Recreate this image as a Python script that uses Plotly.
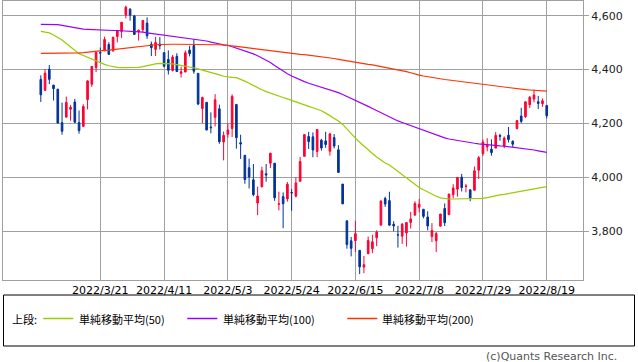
import plotly.graph_objects as go

# ---------------- data ----------------
dates = (
    ["2022-03-%02d" % d for d in [1, 2, 3, 4, 7, 8, 9, 10, 11, 14, 15, 16, 17, 18, 21, 22, 23, 24, 25, 28, 29, 30, 31]]
    + ["2022-04-%02d" % d for d in [1, 4, 5, 6, 7, 8, 11, 12, 13, 14, 18, 19, 20, 21, 22, 25, 26, 27, 28, 29]]
    + ["2022-05-%02d" % d for d in [2, 3, 4, 5, 6, 9, 10, 11, 12, 13, 16, 17, 18, 19, 20, 23, 24, 25, 26, 27, 31]]
    + ["2022-06-%02d" % d for d in [1, 2, 3, 6, 7, 8, 9, 10, 13, 14, 15, 16, 17, 21, 22, 23, 24, 27, 28, 29, 30]]
    + ["2022-07-%02d" % d for d in [1, 5, 6, 7, 8, 11, 12, 13, 14, 15, 18, 19, 20, 21, 22, 25, 26, 27, 28, 29]]
    + ["2022-08-%02d" % d for d in [1, 2, 3, 4, 5, 8, 9, 10, 11, 12, 15, 16, 17, 18, 19]]
)

opens = [
    4363.1, 4322.6, 4401.3, 4342.1, 4327.0, 4202.7, 4223.1, 4252.6, 4279.5, 4202.8, 4188.8, 4288.1, 4345.1, 4407.3, 4462.4, 4469.1, 4493.1, 4470.0, 4522.7, 4541.1, 4602.9, 4624.2, 4599.0,
    4540.3, 4548.0, 4572.5, 4494.2, 4474.7, 4494.2, 4462.6, 4437.6, 4396.8, 4449.1, 4385.6, 4390.6, 4472.3, 4489.2, 4385.8, 4255.3, 4278.1, 4186.5, 4222.6, 4253.8,
    4130.6, 4159.8, 4181.2, 4270.4, 4128.2, 4081.3, 4035.2, 3990.1, 3904.0, 3963.9, 4013.0, 4052.0, 4052.0, 3899.0, 3927.8, 3919.4, 3942.9, 3929.6, 3984.6, 4077.4, 4151.1,
    4149.8, 4095.4, 4137.6, 4134.7, 4096.5, 4147.1, 4101.7, 3974.4, 3838.1, 3763.5, 3764.1, 3728.2, 3665.9, 3715.3, 3733.9, 3774.7, 3821.8, 3920.8, 3913.0, 3825.1, 3786.0,
    3781.0, 3792.6, 3832.0, 3858.9, 3888.3, 3880.9, 3852.0, 3779.7, 3764.0, 3818.0, 3883.8, 3860.7, 3935.3, 3955.5, 4000.0, 3965.7, 3953.2, 3951.4, 4026.1, 4087.3,
    4112.4, 4104.2, 4108.0, 4154.9, 4115.9, 4155.9, 4133.1, 4181.0, 4227.4, 4225.0, 4269.4, 4290.5, 4280.4, 4273.1, 4266.3,
]
highs = [
    4378.5, 4401.5, 4416.8, 4342.1, 4327.0, 4276.9, 4299.4, 4268.3, 4291.0, 4247.6, 4271.1, 4358.9, 4412.7, 4465.4, 4481.8, 4522.0, 4501.1, 4520.6, 4546.0, 4575.7, 4637.3, 4627.8, 4603.1,
    4548.7, 4583.5, 4593.5, 4503.9, 4521.2, 4520.4, 4464.4, 4471.0, 4453.9, 4460.5, 4410.3, 4471.0, 4488.3, 4512.9, 4385.8, 4299.0, 4278.1, 4240.7, 4308.5, 4269.7,
    4169.8, 4200.1, 4307.7, 4270.4, 4157.7, 4081.3, 4068.8, 4049.1, 3964.8, 4038.9, 4049.0, 4090.7, 4052.0, 3946.0, 3943.4, 3981.9, 3955.7, 3999.3, 4075.1, 4158.5, 4168.3,
    4166.5, 4177.5, 4142.7, 4168.8, 4164.9, 4160.1, 4119.1, 3974.4, 3838.1, 3778.2, 3837.6, 3728.2, 3707.7, 3779.7, 3786.0, 3802.6, 3913.7, 3927.7, 3945.9, 3836.5, 3819.0,
    3829.8, 3832.2, 3870.9, 3910.6, 3918.5, 3880.9, 3873.4, 3829.4, 3796.4, 3863.6, 3902.4, 3939.8, 3974.1, 3999.3, 4012.4, 3975.3, 3953.2, 4039.6, 4079.0, 4140.2,
    4145.0, 4140.5, 4167.7, 4161.3, 4151.6, 4186.6, 4137.3, 4211.0, 4257.9, 4280.5, 4301.8, 4325.3, 4302.2, 4292.5, 4266.3,
]
lows = [
    4279.5, 4322.6, 4345.6, 4285.0, 4199.9, 4157.9, 4223.1, 4209.8, 4200.5, 4161.7, 4187.9, 4252.0, 4335.7, 4390.6, 4424.3, 4469.1, 4455.8, 4465.2, 4501.1, 4517.7, 4589.7, 4581.3, 4530.4,
    4507.6, 4539.2, 4514.2, 4450.0, 4450.3, 4474.6, 4408.4, 4381.3, 4392.7, 4390.8, 4370.3, 4390.6, 4448.8, 4384.5, 4267.6, 4200.8, 4175.0, 4162.9, 4188.6, 4124.3,
    4062.5, 4147.1, 4148.9, 4106.0, 4067.9, 3975.5, 3958.2, 3928.8, 3858.9, 3963.9, 3983.4, 4033.9, 3911.9, 3876.6, 3810.3, 3909.0, 3875.1, 3925.0, 3984.6, 4077.4, 4104.9,
    4073.9, 4074.4, 4098.7, 4109.2, 4080.2, 4107.2, 4017.2, 3900.2, 3734.3, 3705.7, 3722.3, 3639.8, 3643.4, 3715.3, 3717.7, 3743.5, 3821.8, 3889.7, 3820.1, 3799.0, 3738.7,
    3752.1, 3742.1, 3809.4, 3858.9, 3869.3, 3847.2, 3802.4, 3759.1, 3721.6, 3817.2, 3818.6, 3860.7, 3922.0, 3927.6, 3947.0, 3943.5, 3910.7, 3951.4, 3993.0, 4079.2,
    4096.0, 4079.8, 4108.0, 4135.4, 4107.3, 4129.0, 4112.1, 4177.3, 4201.4, 4219.8, 4256.9, 4277.8, 4253.1, 4262.0, 4218.7,
]
closes = [
    4306.3, 4386.5, 4363.5, 4328.9, 4201.1, 4170.7, 4277.9, 4259.5, 4204.3, 4173.1, 4262.5, 4357.9, 4411.7, 4463.1, 4461.2, 4511.6, 4456.2, 4520.2, 4543.1, 4575.5, 4631.6, 4602.5, 4530.4,
    4545.9, 4582.6, 4525.1, 4481.2, 4500.2, 4488.3, 4412.5, 4397.5, 4446.6, 4392.6, 4391.7, 4462.2, 4459.5, 4393.7, 4271.8, 4296.1, 4175.2, 4184.0, 4287.5, 4131.9,
    4155.4, 4175.5, 4300.2, 4146.9, 4123.3, 3991.2, 4001.1, 3935.2, 3930.1, 4023.9, 4008.0, 4088.9, 3923.7, 3900.8, 3901.4, 3973.8, 3941.5, 3978.7, 4057.8, 4158.2, 4132.2,
    4101.2, 4176.8, 4108.5, 4121.4, 4160.7, 4115.8, 4017.8, 3900.9, 3749.6, 3735.5, 3790.0, 3666.8, 3674.8, 3764.8, 3759.9, 3795.7, 3911.7, 3900.1, 3821.6, 3818.8, 3785.4,
    3825.3, 3831.4, 3845.1, 3902.6, 3899.4, 3854.4, 3818.8, 3801.8, 3790.4, 3863.2, 3830.9, 3936.7, 3959.9, 3999.0, 3961.6, 3966.8, 3921.1, 4023.6, 4072.4, 4130.3,
    4118.6, 4091.2, 4155.2, 4151.9, 4145.2, 4140.1, 4122.5, 4210.2, 4207.3, 4280.2, 4297.1, 4305.2, 4274.0, 4283.7, 4228.5,
]

sma50 = [
    4542, 4539, 4536, 4528, 4520, 4510, 4497, 4484, 4471, 4459, 4452, 4445, 4437, 4430, 4424, 4419, 4414, 4410, 4408, 4407,
    4407, 4407, 4407, 4408, 4411, 4415, 4419, 4421, 4423, 4423, 4423, 4421, 4418, 4415, 4412, 4410, 4406, 4403, 4398, 4394,
    4389, 4385, 4380, 4375, 4372, 4371, 4370, 4364, 4357, 4349, 4340, 4332, 4325, 4318, 4312, 4306, 4300, 4296, 4291, 4285,
    4279, 4273, 4268, 4263, 4258, 4253, 4247, 4238, 4229, 4219, 4209, 4196, 4178, 4160, 4145, 4130, 4115, 4101, 4088, 4075,
    4063, 4053, 4045, 4033, 4020, 4008, 3996, 3984, 3972, 3962, 3953, 3944, 3936, 3929, 3923, 3920, 3919, 3919, 3919, 3919,
    3919, 3919, 3919, 3919, 3921, 3924, 3928, 3931, 3934, 3936, 3939, 3941, 3944, 3946, 3949, 3952, 3955, 3958, 3962, 3965,
]
sma100 = [
    4568, 4568, 4568, 4568, 4567, 4564, 4561, 4558, 4555, 4552, 4550, 4549, 4548, 4547, 4547, 4546, 4546, 4545, 4545, 4544,
    4543, 4543, 4542, 4541, 4539, 4536, 4534, 4532, 4530, 4527, 4524, 4522, 4521, 4519, 4517, 4516, 4514, 4512, 4509, 4506,
    4502, 4498, 4494, 4492, 4490, 4485, 4480, 4475, 4470, 4464, 4458, 4451, 4443, 4436, 4426, 4415, 4404, 4394, 4384, 4376,
    4368, 4360, 4355, 4349, 4344, 4339, 4335, 4330, 4325, 4320, 4314, 4307, 4300, 4292, 4285, 4278, 4271, 4263, 4255, 4247,
    4240, 4232, 4225, 4217, 4209, 4203, 4197, 4191, 4185, 4180, 4174, 4168, 4162, 4156, 4150, 4146, 4142, 4139, 4136, 4133,
    4131, 4128, 4126, 4124, 4122, 4120, 4119, 4117, 4116, 4115, 4113, 4112, 4111, 4109, 4107, 4104, 4101, 4098, 4095, 4092,
]
sma200 = [
    4460, 4460, 4460, 4460, 4460, 4460, 4461, 4461, 4462, 4462, 4463, 4465, 4467, 4468, 4470, 4471, 4472, 4474, 4475, 4477,
    4479, 4481, 4483, 4485, 4487, 4490, 4491, 4492, 4493, 4494, 4494, 4494, 4494, 4494, 4494, 4494, 4494, 4494, 4493, 4493,
    4493, 4492, 4492, 4491, 4490, 4488, 4486, 4484, 4482, 4479, 4477, 4474, 4472, 4470, 4468, 4467, 4465, 4463, 4461, 4459,
    4458, 4456, 4455, 4453, 4452, 4450, 4449, 4446, 4443, 4441, 4438, 4435, 4433, 4430, 4428, 4425, 4422, 4419, 4417, 4414,
    4411, 4408, 4405, 4403, 4400, 4396, 4392, 4388, 4383, 4379, 4376, 4373, 4371, 4368, 4366, 4363, 4361, 4359, 4357, 4355,
    4353, 4351, 4349, 4347, 4345, 4343, 4340, 4338, 4336, 4334, 4331, 4329, 4327, 4326, 4325, 4324, 4323, 4322, 4321, 4320,
]

tick_dates = ["2022-03-21", "2022-04-11", "2022-05-03", "2022-05-24", "2022-06-15", "2022-07-08", "2022-07-29", "2022-08-19"]
tick_labels = ["2022/3/21", "2022/4/11", "2022/5/3", "2022/5/24", "2022/6/15", "2022/7/8", "2022/7/29", "2022/8/19"]
y_ticks = [3800, 4000, 4200, 4400, 4600]
ma_names = ["単純移動平均(50)", "単純移動平均(100)", "単純移動平均(200)"]

# ---------------- style ----------------
RED = "#ff0033"
BLUE = "#003399"
MA_COLORS = ["#99cc00", "#9900ff", "#ff3300"]
GRID = "#a0a0a0"
W, H = 638, 362
ML, MR, MT, MB = 3, 55, 1, 82
PW, PH = W - ML - MR, H - MT - MB


def px(x):
    return (x - ML) / PW


def py(y):
    return (H - MB - y) / PH


fig = go.Figure()
fig.add_trace(go.Candlestick(
    x=dates, open=opens, high=highs, low=lows, close=closes,
    increasing=dict(line=dict(color=RED, width=1), fillcolor=RED),
    decreasing=dict(line=dict(color=BLUE, width=1), fillcolor=BLUE),
    whiskerwidth=0, showlegend=False,
))
for vals, col, name in zip([sma50, sma100, sma200], MA_COLORS, ma_names):
    fig.add_trace(go.Scatter(x=dates, y=vals, mode="lines", name=name,
                             line=dict(color=col, width=1.2), showlegend=False))

shapes = [dict(type="rect", xref="paper", yref="paper",
               x0=px(3.5), x1=px(634.5), y0=py(346), y1=py(295),
               line=dict(color="black", width=1))]
annotations = [dict(text="上段:", xref="paper", yref="paper", x=px(10), y=py(318.5),
                    xanchor="left", yanchor="middle", showarrow=False,
                    font=dict(family="Noto Sans CJK JP", size=11, color="black"))]
for (lx, tx), col, name in zip([(43.3, 76.5), (187.3, 220.5), (347.3, 379.5)], MA_COLORS, ma_names):
    shapes.append(dict(type="line", xref="paper", yref="paper",
                       x0=px(lx), x1=px(lx + 30), y0=py(318.5), y1=py(318.5),
                       line=dict(color=col, width=1.5)))
    annotations.append(dict(text=name, xref="paper", yref="paper", x=px(tx), y=py(318.5),
                            xanchor="left", yanchor="middle", showarrow=False,
                            font=dict(family="Noto Sans CJK JP", size=11, color="black")))
annotations.append(dict(text="(c)Quants Research Inc.", xref="paper", yref="paper",
                        x=px(619), y=py(356), xanchor="right", yanchor="middle", showarrow=False,
                        font=dict(family="DejaVu Sans", size=11, color="#555555")))

fig.update_layout(
    width=W, height=H,
    margin=dict(l=ML, r=MR, t=MT, b=MB),
    paper_bgcolor="white", plot_bgcolor="white",
    boxgap=0.45,
    showlegend=False,
    hovermode=False,
    shapes=shapes, annotations=annotations,
    xaxis=dict(type="category", range=[-8.89, 127.53], rangeslider=dict(visible=False),
               tickvals=tick_dates, ticktext=tick_labels, showgrid=True, gridcolor=GRID, gridwidth=1,
               showline=True, mirror=True, linecolor=GRID, linewidth=1, ticks="",
               tickfont=dict(family="DejaVu Sans", size=11, color="black")),
    yaxis=dict(range=[3618, 4654.6], side="right", tickvals=y_ticks, tickformat=",d",
               showgrid=True, gridcolor=GRID, gridwidth=1, zeroline=False,
               showline=True, mirror=True, linecolor=GRID, linewidth=1,
               ticks="outside", ticklen=5, tickcolor=GRID,
               tickfont=dict(family="DejaVu Sans", size=11, color="#222222")),
)

fig.write_html("out.html", config={"displayModeBar": False},
               post_script="document.body.style.margin='0';document.body.style.overflow='hidden';")
